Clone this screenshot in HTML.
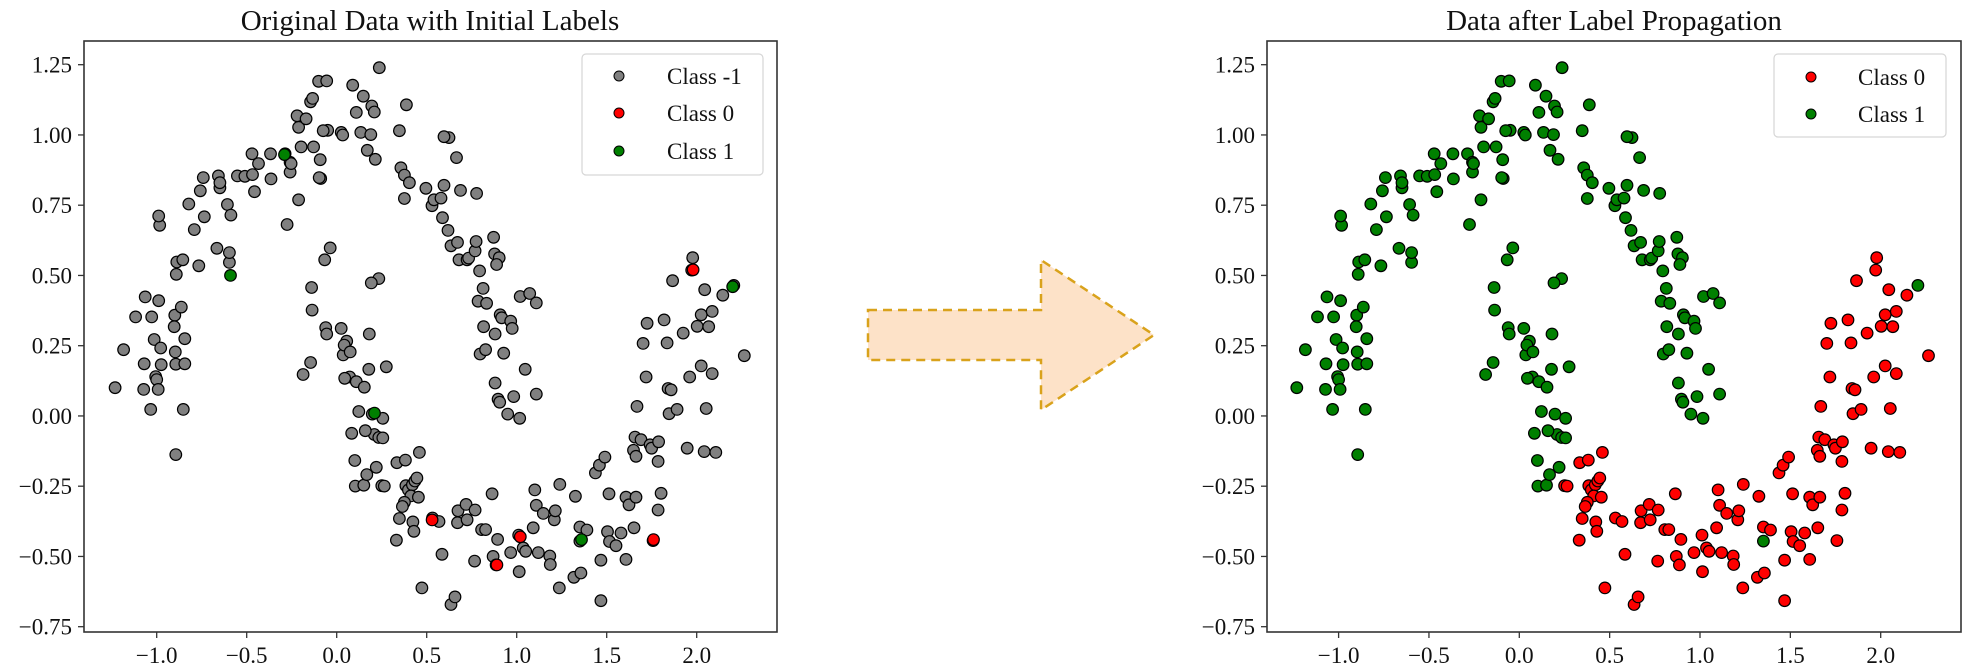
<!DOCTYPE html>
<html><head><meta charset="utf-8"><style>
html,body{margin:0;padding:0;background:#fff;}
svg{display:block;font-family:"Liberation Serif",serif;}
</style></head><body>
<svg id="s" width="1967" height="668" xmlns="http://www.w3.org/2000/svg">
<rect width="1967" height="668" fill="#fff"/>
<g id="pts"></g>
<g id="axes"></g>
<path d="M868,310 L1041,310 L1041,260 L1154,335 L1041,410 L1041,360 L868,360 Z" fill="#fde2c8" stroke="#d9a21b" stroke-width="2.5" stroke-dasharray="9,6"/>
<text x="430" y="30" font-size="29" text-anchor="middle" fill="#111">Original Data with Initial Labels</text>
<text x="1614" y="30" font-size="29" text-anchor="middle" fill="#111">Data after Label Propagation</text>
<rect x="582" y="54" width="181" height="121" rx="4" fill="#fff" fill-opacity="0.85" stroke="#d6d6d6" stroke-width="1.2"/>
<circle cx="619" cy="76" r="5" fill="#808080" stroke="#000" stroke-width="1"/>
<circle cx="619" cy="113" r="5" fill="#ff0000" stroke="#000" stroke-width="1"/>
<circle cx="619" cy="151" r="5" fill="#008000" stroke="#000" stroke-width="1"/>
<text x="667" y="84" font-size="23" fill="#111">Class -1</text>
<text x="667" y="121" font-size="23" fill="#111">Class 0</text>
<text x="667" y="159" font-size="23" fill="#111">Class 1</text>
<rect x="1774" y="54" width="172" height="83" rx="4" fill="#fff" fill-opacity="0.85" stroke="#d6d6d6" stroke-width="1.2"/>
<circle cx="1811" cy="77" r="5" fill="#ff0000" stroke="#000" stroke-width="1"/>
<circle cx="1811" cy="114" r="5" fill="#008000" stroke="#000" stroke-width="1"/>
<text x="1858" y="85" font-size="23" fill="#111">Class 0</text>
<text x="1858" y="122" font-size="23" fill="#111">Class 1</text>
</svg>
<script>
var G=[[235,911],[252,822],[276,745],[295,698],[308,745],[313,798],[316,885],[318,892],[321,915],[306,962],[293,855],[292,915],[322,707],[324,530],[322,508],[326,818],[327,857],[356,856],[354,741],[353,768],[355,827],[357,645],[358,616],[367,722],[370,611],[374,796],[374,855],[371,962],[356,1068],[382,480],[393,540],[402,625],[405,449],[411,418],[413,510],[438,584],[441,414],[444,442],[444,430],[459,481],[463,617],[463,594],[466,506],[479,414],[494,415],[509,411],[508,362],[513,451],[521,385],[545,362],[546,421],[574,362],[578,528],[584,382],[584,405],[586,385],[601,470],[606,346],[601,300],[598,273],[616,280],[625,240],[629,232],[631,346],[641,192],[657,191],[645,420],[644,376],[659,307],[664,583],[653,611],[650,308],[627,676],[628,729],[610,880],[625,852],[642,418],[686,312],[689,318],[709,201],[716,265],[730,227],[725,312],[738,354],[747,250],[752,264],[754,375],[745,317],[762,160],[816,247],[802,308],[805,395],[812,412],[812,467],[822,430],[855,443],[867,484],[871,470],[885,466],[888,512],[899,542],[891,436],[901,324],[891,322],[916,371],[924,448],[956,455],[905,578],[918,570],[921,611],[937,611],[940,607],[953,590],[955,568],[962,637],[969,678],[959,708],[976,713],[970,768],[963,832],[974,822],[990,558],[992,597],[1001,606],[996,622],[1003,740],[1006,747],[993,785],[993,900],[1010,830],[999,938],[1002,945],[1018,973],[1030,932],[1042,983],[1024,755],[1027,772],[1053,868],[1043,697],[1062,690],[1075,712],[1075,926],[655,770],[657,785],[686,772],[690,834],[697,802],[692,811],[704,827],[703,886],[693,889],[707,1018],[713,1082],[714,1142],[716,897],[721,967],[732,910],[741,868],[742,785],[748,973],[752,1021],[769,983],[734,1012],[761,1028],[769,1029],[731,1140],[737,1115],[756,1098],[761,655],[746,665],[776,862],[1162,1271],[1469,671]];
var R=[[797,1087],[814,1081],[842,1063],[815,1141],[820,1151],[828,1139],[833,1130],[825,1165],[840,1168],[837,1123],[812,1180],[808,1190],[802,1218],[829,1226],[831,1248],[796,1269],[767,1141],[772,1142],[868,1217],[881,1225],[887,1302],[847,1381],[919,1200],[918,1228],[935,1185],[937,1221],[953,1198],[952,1318],[905,1420],[913,1402],[966,1244],[974,1244],[987,1160],[998,1267],[989,1307],[995,1327],[1024,1298],[1040,1257],[1041,1343],[1049,1287],[1054,1295],[1072,1151],[1075,1187],[1089,1206],[1069,1240],[1079,1298],[1102,1306],[1103,1326],[1111,1221],[1113,1200],[1122,1138],[1121,1381],[1153,1166],[1150,1356],[1162,1238],[1176,1245],[1164,1346],[1193,1111],[1201,1093],[1204,1316],[1204,1411],[1212,1074],[1220,1160],[1217,1249],[1221,1272],[1234,1282],[1244,1252],[1254,1168],[1260,1186],[1254,1314],[1270,1240],[1272,1027],[1269,1058],[1274,1072],[1274,1168],[1276,955],[1284,1033],[1288,807],[1296,760],[1294,886],[1302,1045],[1305,1053],[1319,1038],[1318,1084],[1324,1159],[1318,1198],[1308,1270],[1330,752],[1336,806],[1338,913],[1340,972],[1344,916],[1347,660],[1356,962],[1368,783],[1376,1053],[1381,886],[1385,635],[1387,606],[1396,767],[1404,740],[1410,1061],[1404,860],[1411,681],[1414,960],[1419,768],[1426,732],[1426,878],[1433,1063],[1447,694],[1490,836]];
function dx(p){return (p-677)/359;} function dy(p){return 1.25-(p-153)/659.5;}
function Y(v){return 64.7+(1.25-v)*281;}
function LX(v){return 336.7+180*v;} function RX(v){return 1519.3+180.7*v;}
var g=document.getElementById('pts'),h='';
function c(x,y,f){h+='<circle cx="'+x.toFixed(1)+'" cy="'+y.toFixed(1)+'" r="5.8" fill="'+f+'" stroke="#000" stroke-width="1.2"/>';}
var all=G.concat(R);
all.forEach(function(p){c(LX(dx(p[0])),Y(dy(p[1])),'#808080');});
[[-0.29,0.93],[-0.59,0.5],[0.21,0.01],[1.36,-0.44],[2.2,0.46]].forEach(function(p){c(LX(p[0]),Y(p[1]),'#008000');});
[[0.53,-0.37],[1.02,-0.43],[0.89,-0.53],[1.76,-0.44],[1.98,0.52]].forEach(function(p){c(LX(p[0]),Y(p[1]),'#ff0000');});
G.forEach(function(p){c(RX(dx(p[0])),Y(dy(p[1])),'#008000');});
R.forEach(function(p){c(RX(dx(p[0])),Y(dy(p[1])),'#ff0000');});
g.innerHTML=h;
var a='';
function axes(x0,x1,XF){
 a+='<rect x="'+x0+'" y="41" width="'+(x1-x0)+'" height="591" fill="none" stroke="#333" stroke-width="1.6"/>';
 [1.25,1.0,0.75,0.5,0.25,0,-0.25,-0.5,-0.75].forEach(function(v){var y=Y(v);a+='<line x1="'+(x0-6)+'" x2="'+x0+'" y1="'+y+'" y2="'+y+'" stroke="#333" stroke-width="1.3"/>';
  a+='<text x="'+(x0-12)+'" y="'+(y+8)+'" font-size="23" text-anchor="end" fill="#111">'+(v<0?'\u2212':'')+Math.abs(v).toFixed(2)+'</text>';});
 [-1,-0.5,0,0.5,1,1.5,2].forEach(function(v){var x=XF(v);a+='<line x1="'+x+'" x2="'+x+'" y1="632" y2="638" stroke="#333" stroke-width="1.3"/>';
  a+='<text x="'+x+'" y="663" font-size="23" text-anchor="middle" fill="#111">'+(v<0?'\u2212':'')+Math.abs(v).toFixed(1)+'</text>';});
}
axes(84,777,LX);axes(1267,1961,RX);
document.getElementById('axes').innerHTML=a;
</script>
</body></html>
